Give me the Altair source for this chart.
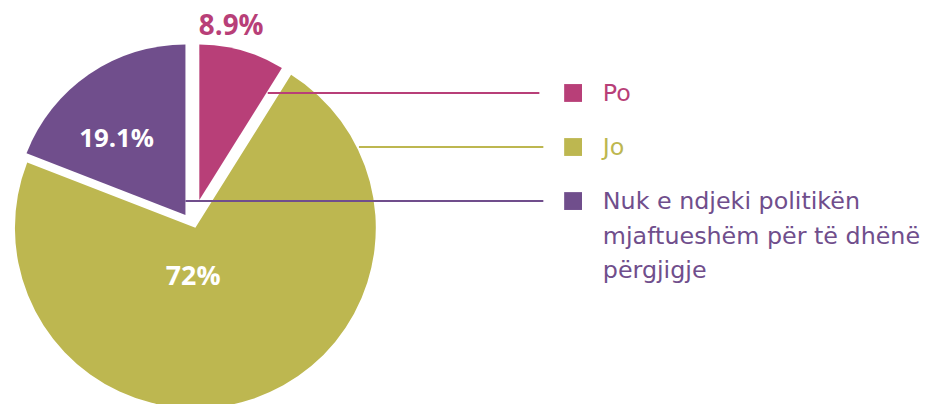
import altair as alt
import numpy as np
import pandas as pd

# ---- data ----
categories = ["Po", "Jo", "Nuk e ndjeki politikën mjaftueshëm për të dhënë përgjigje"]
values = [8.9, 72.0, 19.1]
value_labels = ["8.9%", "72%", "19.1%"]
legend_labels = ["Po", "Jo", "Nuk e ndjeki politikën\nmjaftueshëm për të dhënë\npërgjigje"]
colors = ["#b83f78", "#bdb750", "#704e8c"]

end = np.cumsum(values)
start = end - np.array(values)
df = pd.DataFrame({
    "cat": categories,
    "value": values,
    "label": value_labels,
    "legend": legend_labels,
    "start": start,
    "end": end,
    "mid": start + np.array(values) / 2,
})

theta_scale = alt.Scale(domain=[0, 100], range=[0, 2 * np.pi])
color_enc = alt.Color("cat:N", scale=alt.Scale(domain=categories, range=colors), legend=None)
y_scale = alt.Scale(type="point", domain=categories, range=[84, 193], padding=0)

base = alt.Chart(df)
FONT = "Open Sans"


def slice_arc(cat, cx, cy, r):
    return base.transform_filter(alt.datum.cat == cat).mark_arc(radius=r).encode(
        theta=alt.Theta("start:Q", scale=theta_scale, stack=None),
        theta2="end:Q",
        color=color_enc,
        x=alt.value(cx),
        y=alt.value(cy),
    )


def slice_label(cat, cx, cy, r, dx, dy, size, fill):
    return base.transform_filter(alt.datum.cat == cat).mark_text(
        radius=r, dx=dx, dy=dy, font=FONT, fontSize=size, fontWeight="bold",
        align="center", baseline="middle", fill=fill,
    ).encode(
        theta=alt.Theta("mid:Q", scale=theta_scale, stack=None),
        text="label:N",
        x=alt.value(cx),
        y=alt.value(cy),
    )


def connector(cat, x_start, x_end, col):
    return base.transform_filter(alt.datum.cat == cat).mark_rule(strokeWidth=2, color=col).encode(
        x=alt.value(x_start),
        x2=alt.value(x_end),
        y=alt.Y("cat:N", scale=y_scale, axis=None),
    )


olive_arc = slice_arc(categories[1], 189, 220, 182)
pink_arc = slice_arc(categories[0], 193, 192, 157)
purple_arc = slice_arc(categories[2], 179, 207, 172)

rules = [
    connector(categories[0], 262, 536, colors[0]),
    connector(categories[1], 354, 540, colors[1]),
    connector(categories[2], 179, 540, colors[2]),
]

labels = [
    slice_label(categories[0], 193, 192, 178, -17, -3, 28, colors[0]),
    slice_label(categories[1], 189, 220, 50, -18, 2, 27, "white"),
    slice_label(categories[2], 179, 207, 100, -13, 6, 26, "white"),
]

legend_sq = base.mark_square(size=324, opacity=1, filled=True).encode(
    x=alt.value(570),
    y=alt.Y("cat:N", scale=y_scale, axis=None),
    color=color_enc,
)

legend_txt = base.mark_text(
    align="left", baseline="alphabetic", dy=8, font="DejaVu Sans", fontSize=24,
    lineBreak="\n", lineHeight=35,
).encode(
    x=alt.value(600),
    y=alt.Y("cat:N", scale=y_scale, axis=None),
    text="legend:N",
    color=color_enc,
)

chart = alt.layer(
    olive_arc, pink_arc, purple_arc, *rules, *labels, legend_sq, legend_txt
).properties(
    width=927, height=396, padding=0, autosize="none"
).configure_view(stroke=None)

chart.save("out.html", embed_options={"renderer": "svg", "actions": False})
